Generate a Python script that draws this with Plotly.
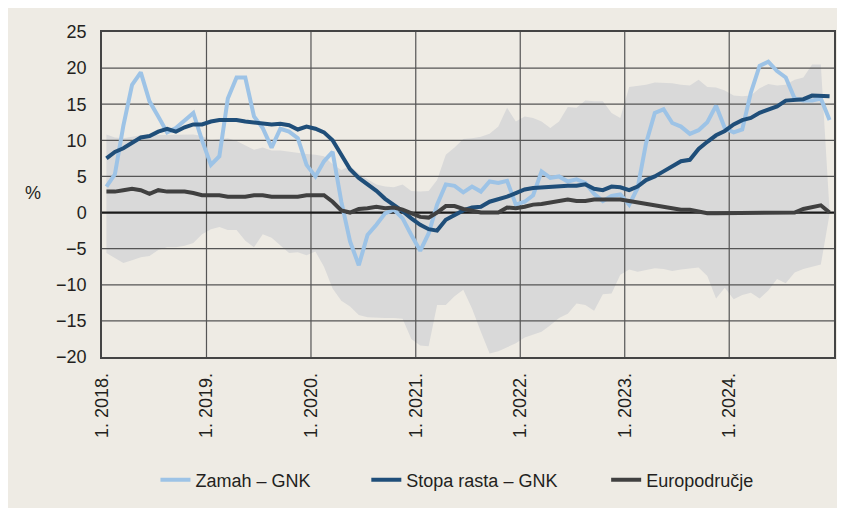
import plotly.graph_objects as go
import pandas as pd

months = pd.date_range("2018-01-01", periods=84, freq="MS")

zamah = [3.6, 5.3, 12.0, 17.7, 19.4, 15.4, 13.3, 11.1, 11.7, 12.7, 13.8, 10.0,
         6.6, 7.8, 15.8, 18.7, 18.7, 13.3, 11.7, 9.0, 11.6, 11.2, 10.3, 6.6,
         5.0, 7.1, 8.4, 1.5, -4.0, -7.3, -3.1, -1.7, -0.1, 0.4, -0.8, -3.1,
         -5.3, -2.9, 1.1, 3.9, 3.7, 2.8, 3.6, 2.9, 4.3, 4.1, 4.4, 1.1,
         1.5, 2.4, 5.7, 4.8, 5.0, 4.3, 4.6, 4.1, 2.6, 1.6, 2.3, 2.5,
         1.1, 3.4, 9.6, 13.8, 14.3, 12.4, 11.9, 10.9, 11.4, 12.5, 14.8, 11.7,
         11.1, 11.5, 16.6, 20.3, 20.9, 19.6, 18.7, 15.8, 15.5, 15.5, 15.8, 12.8]

stopa = [7.5, 8.4, 8.9, 9.7, 10.4, 10.6, 11.2, 11.6, 11.2, 11.8, 12.2, 12.2,
         12.6, 12.8, 12.8, 12.8, 12.6, 12.5, 12.4, 12.2, 12.3, 12.1, 11.5, 11.9,
         11.6, 11.1, 10.0, 7.9, 6.0, 4.8, 3.9, 3.0, 1.9, 1.1, 0.2, -0.8,
         -1.7, -2.3, -2.5, -1.0, -0.3, 0.3, 0.7, 0.8, 1.5, 1.8, 2.2, 2.7,
         3.2, 3.4, 3.5, 3.6, 3.7, 3.7, 3.7, 3.9, 3.3, 3.1, 3.6, 3.5,
         3.1, 3.6, 4.5, 5.0, 5.7, 6.4, 7.1, 7.3, 8.8, 9.8, 10.7, 11.3,
         12.2, 12.8, 13.1, 13.8, 14.2, 14.7, 15.5, 15.6, 15.7, 16.2, 16.1, 16.1]

euro = [2.9, 2.9, 3.1, 3.3, 3.1, 2.6, 3.1, 2.9, 2.9, 2.9, 2.7, 2.4,
        2.4, 2.4, 2.2, 2.2, 2.2, 2.4, 2.4, 2.2, 2.2, 2.1, 2.2, 2.4,
        2.4, 2.4, 1.5, 0.3, 0.0, 0.5, 0.6, 0.8, 0.6, 0.7, 0.4, -0.1,
        -0.6, -0.7, 0.0, 0.9, 0.9, 0.5, 0.2, 0.0, 0.0, 0.0, 0.7, 0.6,
        0.8, 1.1, 1.2, 1.4, 1.6, 1.8, 1.6, 1.6, 1.8, 1.8, 1.8, 1.8,
        1.6, 1.4, 1.2, 1.0, 0.8, 0.6, 0.4, 0.4, 0.1, -0.1, -0.1, -0.1,
        -0.1, -0.1, 0.0, 0.0, 0.0, 0.0, 0.0, 0.0, 0.5, 0.7, 1.0, 0.0]

band_low = [-5.6, -6.3, -7.0, -6.6, -6.2, -6.0, -5.2, -4.8, -4.8, -4.6, -4.2, -3.0,
            -2.3, -2.0, -2.4, -2.4, -3.9, -4.8, -3.0, -3.5, -4.6, -5.6, -5.5, -5.9,
            -5.4, -7.5, -10.5, -12.2, -13.0, -14.2, -14.5, -14.6, -14.6, -14.6, -14.7, -17.5,
            -18.4, -18.5, -12.8, -12.8, -11.6, -10.7, -13.3, -16.5, -19.5, -19.2, -18.7, -18.1,
            -17.3, -16.9, -16.5, -15.6, -14.6, -14.0, -12.6, -12.8, -13.6, -11.3, -11.2, -8.6,
            -7.9, -8.2, -8.0, -7.7, -7.8, -8.1, -7.9, -7.7, -7.6, -8.8, -11.9, -10.4,
            -12.0, -11.4, -11.1, -11.9, -10.8, -9.2, -9.8, -8.3, -7.8, -7.5, -7.2, -0.2]

band_high = [10.8, 10.4, 10.3, 10.5, 10.7, 10.7, 10.7, 10.7, 10.7, 10.8, 10.8, 10.6,
             10.0, 10.2, 10.3, 9.9, 9.3, 8.7, 9.0, 8.6, 8.6, 8.4, 8.2, 8.1,
             8.0, 7.8, 6.7, 5.9, 6.4, 5.4, 4.6, 3.9, 3.6, 3.5, 3.9, 3.0,
             2.9, 3.0, 4.5, 8.0, 9.0, 10.2, 10.3, 10.5, 10.9, 11.9, 14.5, 12.6,
             13.3, 13.1, 12.6, 11.7, 12.6, 14.6, 14.5, 15.5, 15.4, 15.4, 13.8, 13.1,
             17.4, 17.5, 17.7, 18.0, 18.0, 17.9, 17.7, 17.6, 18.4, 17.4, 17.3, 16.9,
             16.2, 16.1, 16.2, 17.2, 17.8, 17.6, 17.7, 18.4, 18.7, 20.5, 20.5, 0.2]

series_names = ["Zamah – GNK", "Stopa rasta – GNK", "Europodručje"]
series_colors = ["#9DC3E6", "#1F4E79", "#404040"]

y_ticks = [-20, -15, -10, -5, 0, 5, 10, 15, 20, 25]
year_ticks = pd.date_range("2018-01-01", periods=7, freq="YS")
x_start, x_end = pd.Timestamp("2018-01-01"), pd.Timestamp("2025-01-01")

BEIGE = "#EEEBE4"
FONT = "Liberation Sans, Arial, sans-serif"
TXT = "#231F20"

W, H = 837, 500
L, R, T, B = 93.5, 11, 24, 151
PW, PH = W - L - R, H - T - B

fig = go.Figure()

period = dict(xperiod="M1", xperiodalignment="middle")

# range band
fig.add_trace(go.Scatter(x=months, y=band_low, mode="lines", line=dict(width=0, color="#D9D9D9"),
                         showlegend=False, hoverinfo="skip", **period))
fig.add_trace(go.Scatter(x=months, y=band_high, mode="lines", line=dict(width=0, color="#D9D9D9"),
                         fill="tonexty", fillcolor="#D9D9D9", showlegend=False, hoverinfo="skip", **period))

# grid lines drawn above the band
gx, gy = [], []
for v in y_ticks:
    if v in (0, -20, 25):
        continue
    gx += [x_start, x_end, None]
    gy += [v, v, None]
for d in year_ticks[1:]:
    gx += [d, d, None]
    gy += [y_ticks[0], y_ticks[-1], None]
fig.add_trace(go.Scatter(x=gx, y=gy, mode="lines", line=dict(color="#555555", width=1.2),
                         showlegend=False, hoverinfo="skip"))
fig.add_trace(go.Scatter(x=[x_start, x_end], y=[0, 0], mode="lines", line=dict(color="#1a1a1a", width=2.2),
                         showlegend=False, hoverinfo="skip"))

legends = ["legend", "legend2", "legend3"]
for name, vals, col, lg in zip(series_names, [zamah, stopa, euro], series_colors, legends):
    fig.add_trace(go.Scatter(x=months, y=vals, mode="lines", name=name,
                             line=dict(color=col, width=4), legend=lg, **period))

fig.add_annotation(text="%", xref="paper", yref="paper", x=(14 - L) / PW, y=(T + PH - 185) / PH,
                   showarrow=False, font=dict(size=18, color=TXT, family=FONT))

leg_common = dict(orientation="h", yanchor="middle", xanchor="left", bgcolor="rgba(0,0,0,0)",
                  font=dict(size=18, color=TXT, family=FONT), borderwidth=0)
leg_px = [147, 358, 598]
y_leg = (T + PH - 472) / PH

fig.update_layout(
    width=W, height=H,
    margin=dict(l=L, r=R, t=T, b=B, autoexpand=False),
    paper_bgcolor=BEIGE, plot_bgcolor=BEIGE,
    font=dict(family=FONT, size=18, color=TXT),
    legend=dict(x=(leg_px[0] - L) / PW, y=y_leg, **leg_common),
    legend2=dict(x=(leg_px[1] - L) / PW, y=y_leg, **leg_common),
    legend3=dict(x=(leg_px[2] - L) / PW, y=y_leg, **leg_common),
    xaxis=dict(type="date", range=[x_start, x_end], tickvals=list(year_ticks),
               ticktext=[f"1. {d.year}." for d in year_ticks], tickangle=-90,
               showgrid=False, zeroline=False, showline=True, mirror=True,
               linecolor="#444444", linewidth=1.5, ticks="", ticklabelstandoff=7,
               tickfont=dict(size=18, color=TXT, family=FONT)),
    yaxis=dict(range=[-20, 25], tickvals=y_ticks, showgrid=False, zeroline=False,
               showline=True, mirror=True, linecolor="#444444", linewidth=1.5,
               ticks="", ticklabelstandoff=10,
               tickfont=dict(size=18, color=TXT, family=FONT)),
)

fig.write_html("out.html")
